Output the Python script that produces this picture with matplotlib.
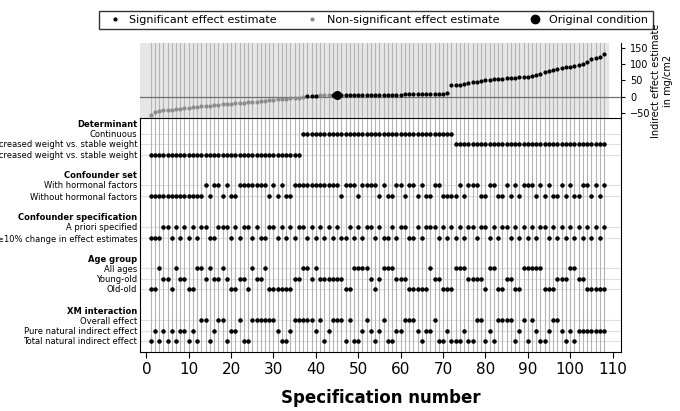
import numpy as np
import matplotlib.pyplot as plt
from matplotlib.lines import Line2D

# effect estimates, sorted (spec 1..108)
est = [-55,-47,-43,-41,-40,-40,-38,-37,-35,-33,-32,-31,-29,-28,-27,-26,-24,-23,-22,-21,
       -20,-19,-18,-17,-16,-15,-14,-12,-10,-9,-8,-7,-6,-5,-4,-3,-1,
       2,3,3,4,4,4,5,5,5,5,5,6,6,6,6,6,6,7,7,7,7,7,7,8,8,8,8,9,9,9,9,10,10,12,
       35,36,37,38,42,44,46,48,50,52,54,55,56,57,58,59,60,61,62,64,66,70,75,80,82,
       84,88,90,92,94,96,100,108,115,118,122,130]
signif = "0"*37 + "111" + "000" + "1"*65
original = 45

determinant = "D"*36 + "C"*36 + "I"*36
conf_set = ("OOOOOOOOOOOO" "OWOWWOWOOWWW" "WWWWOWOWOOWW" "WWWWWWWWWOWW" "WOWWWWOWOOWW"
            "OWWOWOOWWOOO" "OWOWWWOOWWOO" "WOWOWWWOWOWO" "OWOWOOWWOWOW")
conf_spec = ("TTTAATATATAT" "AATTAAATATAA" "TATTAATATATA" "ATATATATATTA" "TATAATATTATA"
             "ATTATAAATATA" "TATAATAATATA" "ATATATATAATA" "TATATATATATA")
age = ("OOAYYOAYYOOA" "AYAYYAYOOYYO" "AYYAOOOOOOYY" "AAYAYYYYYYOO" "AAAAYOYAAAYY"
       "YOOOOOAYYOOO" "AAAYYYYOAAOO" "YYOOAAAAAOOO" "YYYAAYYOOOOO")
xm = ("TPTPTPTPPTPT" "OOTPOOTPPOTT" "OOOOOOPTTPOO" "OOOPOTPOOOTO" "TTPOPTPOTTPP"
      "OOOPTPPOTTPT" "TTPTTOOTPTOO" "OOTPOTOPTTPO" "OPTPTPPPPPPP")

# (label, y, group string, code); code None = header
rows = [("Determinant", 124, None, None),
        ("Continuous", 134, determinant, "C"),
        ("Increased weight vs. stable weight", 144, determinant, "I"),
        ("Decreased weight vs. stable weight", 155, determinant, "D"),
        ("Confounder set", 175, None, None),
        ("With hormonal factors", 185, conf_set, "W"),
        ("Without hormonal factors", 196, conf_set, "O"),
        ("Confounder specification", 216, None, None),
        ("A priori specified", 227, conf_spec, "A"),
        ("≥10% change in effect estimates", 238, conf_spec, "T"),
        ("Age group", 258, None, None),
        ("All ages", 268, age, "A"),
        ("Young-old", 279, age, "Y"),
        ("Old-old", 289, age, "O"),
        ("XM interaction", 310, None, None),
        ("Overall effect", 320, xm, "O"),
        ("Pure natural indirect effect", 331, xm, "P"),
        ("Total natural indirect effect", 341, xm, "T")]

spec = np.arange(1, 109)
est = np.array(est)
sig = np.array([c == "1" for c in signif])

fig = plt.figure(figsize=(6.8, 4.11), dpi=100)
ax1 = fig.add_axes([140/680, 1-118/411, 481/680, 75/411])
ax2 = fig.add_axes([140/680, 1-352/411, 481/680, 234/411])
xl = (-1.5, 112)

# top panel
ax1.axvspan(xl[0], 109, color="#e6e6e6", zorder=0)
for s in spec:
    ax1.axvline(s, color="#b4b4b4", lw=0.8, zorder=1)
ax1.axhline(0, color="#707070", lw=0.9, zorder=2)
ax1.scatter(spec[~sig], est[~sig], s=4, color="#8c8c8c", zorder=3)
ax1.scatter(spec[sig], est[sig], s=4, color="black", zorder=3)
ax1.scatter([original], est[original-1], s=30, color="black", zorder=4)
ax1.set_xlim(xl)
ax1.set_ylim(-65, 165)
ax1.set_xticks([])
ax1.yaxis.tick_right()
ax1.set_yticks([-50, 0, 50, 100, 150])
ax1.tick_params(axis="y", labelsize=7, length=3)
for sp in ["left", "top", "bottom"]:
    ax1.spines[sp].set_visible(False)
ax1.text(1.085, 0.5, "Indirect effect estimate\nin mg/cm2", transform=ax1.transAxes,
         rotation=90, ha="center", va="center", fontsize=7)

# bottom panel
for s in spec:
    ax2.axvline(s, color="#b4b4b4", lw=0.8, zorder=1)
for label, y, grp, code in rows:
    if grp is None:
        continue
    ax2.axhline(y, color="#e0e0e0", lw=0.8, zorder=0)
    xs = [s for s, c in zip(spec, grp) if c == code]
    ax2.scatter(xs, [y]*len(xs), s=5, color="black", zorder=3)
ax2.set_xlim(xl)
ax2.set_ylim(352, 118)
ax2.set_yticks([r[1] for r in rows])
ax2.set_yticklabels([r[0] for r in rows], fontsize=6)
for t, r in zip(ax2.get_yticklabels(), rows):
    if r[2] is None:
        t.set_fontweight("bold")
ax2.tick_params(axis="y", length=0, pad=2)
ax2.set_xticks(range(0, 111, 10))
ax2.tick_params(axis="x", labelsize=11, length=4)
ax2.set_xlabel("Specification number", fontsize=12, fontweight="bold", labelpad=8)

handles = [Line2D([], [], ls="", marker="o", ms=2, color="black", label="Significant effect estimate"),
           Line2D([], [], ls="", marker="o", ms=2, color="#8c8c8c", label="Non-significant effect estimate"),
           Line2D([], [], ls="", marker="o", ms=6, color="black", label="Original condition")]
fig.legend(handles=handles, loc="center", bbox_to_anchor=(376/680, 1-20/411), ncol=3,
           fontsize=8, frameon=True, fancybox=False, edgecolor="black",
           handletextpad=0.3, columnspacing=2.2, borderpad=0.4)

fig.savefig("out.png", dpi=100)
